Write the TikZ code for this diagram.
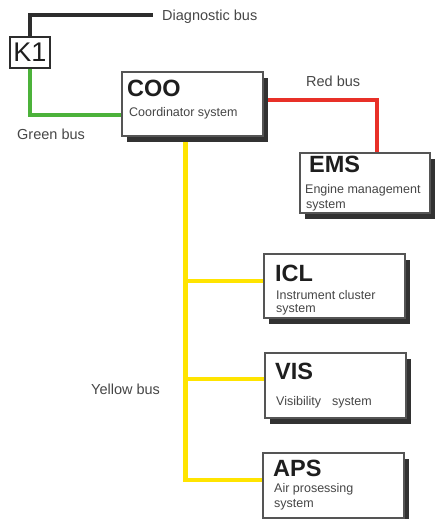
\documentclass[tikz,border=0pt]{standalone}
\usepackage{fontspec}
\setmainfont{Liberation Sans}
\usetikzlibrary{shadows,backgrounds}

\definecolor{busgreen}{RGB}{76,178,58}
\definecolor{busred}{RGB}{232,48,40}
\definecolor{busyellow}{RGB}{255,228,0}
\definecolor{busblack}{RGB}{45,45,45}
\definecolor{shadowgray}{RGB}{50,50,50}
\definecolor{boxedge}{RGB}{85,85,85}
\definecolor{labeltext}{RGB}{70,70,70}
\definecolor{titletext}{RGB}{30,30,30}

\begin{document}
\begin{tikzpicture}[x=1pt,y=-1pt,
  unitbox/.style={draw=boxedge, line width=1.2pt, fill=white, anchor=north west,
    inner sep=0pt, outer sep=0pt,
    drop shadow={shadow xshift=5pt, shadow yshift=-6pt, fill=shadowgray, opacity=1}},
  kbox/.style={draw=busblack, line width=2.8pt, fill=white, anchor=north west,
    inner sep=0pt, outer sep=0pt, text=titletext,
    font=\fontsize{27}{30}\selectfont},
  unittitle/.style={anchor=base west, inner sep=0pt, text=titletext,
    font=\bfseries\fontsize{23.5}{26}\selectfont},
  unitsub/.style={anchor=base west, inner sep=0pt, text=labeltext,
    font=\fontsize{12.5}{15}\selectfont},
  buslabel/.style={anchor=base west, inner sep=0pt, text=labeltext,
    font=\fontsize{14.5}{17}\selectfont},
  bus/.style={line width=4.6pt, line cap=butt, line join=miter}
]
\useasboundingbox (0,0) rectangle (435,519);

% control units
\node[kbox, minimum width=40pt, minimum height=31pt] (K1) at (10,37) {K1};
\node[unitbox, minimum width=141pt, minimum height=64pt] (COO) at (122,72) {};
\node[unitbox, minimum width=130pt, minimum height=60pt] (EMS) at (300,153) {};
\node[unitbox, minimum width=141pt, minimum height=64pt] (ICL) at (264,254) {};
\node[unitbox, minimum width=141pt, minimum height=65pt] (VIS) at (265,353) {};
\node[unitbox, minimum width=141pt, minimum height=65pt] (APS) at (263,453) {};

% unit captions
\node[unittitle] (COOt) at (127,96) {COO};
\node[unitsub] (COOs) at (129,116) {Coordinator system};
\node[unittitle] (EMSt) at (309,172) {EMS};
\node[unitsub] (EMSs1) at (305,193.5) {Engine management};
\node[unitsub] (EMSs2) at (306,208) {system};
\node[unittitle] (ICLt) at (275,281) {ICL};
\node[unitsub] (ICLs1) at (276,299) {Instrument cluster};
\node[unitsub] (ICLs2) at (276,312.5) {system};
\node[unittitle] (VISt) at (275,379) {VIS};
\node[unitsub] (VISs) at (276,405) {Visibility\hspace{0.6em} system};
\node[unittitle] (APSt) at (273,476) {APS};
\node[unitsub] (APSs1) at (274,492) {Air prosessing};
\node[unitsub] (APSs2) at (274,507) {system};

% bus labels
\node[buslabel] (diaglbl) at (162,20.5) {Diagnostic bus};
\node[buslabel] (greenlbl) at (17,139) {Green bus};
\node[buslabel] (redlbl) at (306,86) {Red bus};
\node[buslabel] (yellowlbl) at (91,394.5) {Yellow bus};

% bus end points
\coordinate (diagend) at (153,15);
\coordinate (greentap) at (122,115);
\coordinate (redstart) at (262,100);
\coordinate (redtap) at (377,153);
\coordinate (ytop) at (185.5,137);
\coordinate (icltap) at (264,281);
\coordinate (vistap) at (265,379);
\coordinate (apstap) at (263,480);

\begin{pgfonlayer}{background}
  \draw[bus, busblack, line width=4.2pt] (K1.north) |- (diagend);
  \draw[bus, busgreen] (K1.south) |- (greentap);
  \draw[bus, busred] (redstart) -| (redtap);
  \draw[bus, busyellow] (ytop) |- (icltap);
  \draw[bus, busyellow] (ytop) |- (vistap);
  \draw[bus, busyellow] (ytop) |- (apstap);
\end{pgfonlayer}
\end{tikzpicture}
\end{document}
